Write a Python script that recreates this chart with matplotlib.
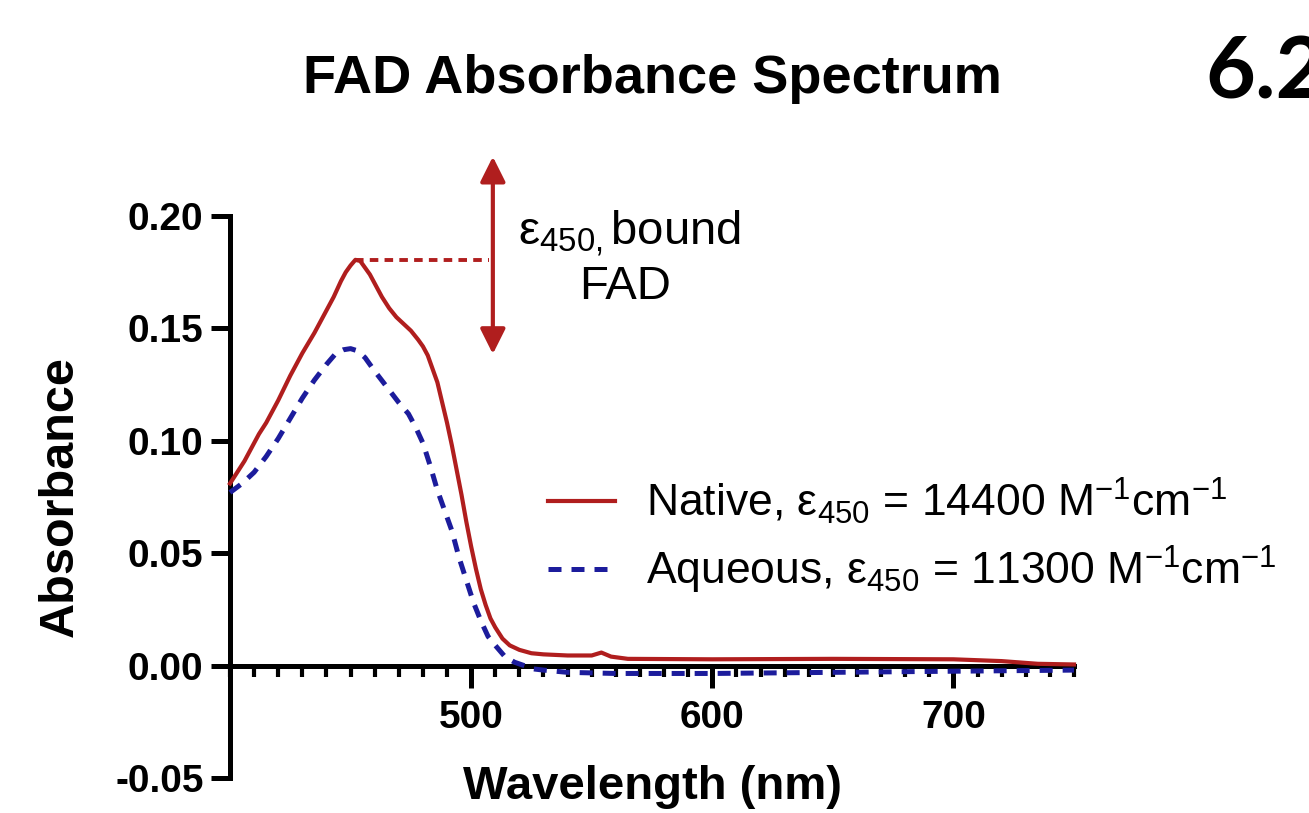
"""FAD absorbance spectrum, native vs aqueous."""

import matplotlib
matplotlib.use("Agg")
import matplotlib.pyplot as plt
from matplotlib.ticker import MultipleLocator

# wavelength [nm] and absorbance
native_nm = [400, 403, 406, 409, 412, 415, 420, 425, 430, 435, 440, 443, 446,
             448, 450, 452, 454, 456, 458, 460, 463, 466, 469, 472, 475, 478,
             480, 482, 484, 486, 488, 490, 492, 494, 496, 498, 500, 502, 504,
             506, 508, 510, 513, 516, 520, 525, 530, 540, 550, 554, 558, 565,
             600, 650, 700, 720, 735, 750]
native_abs = [0.081, 0.086, 0.091, 0.097, 0.103, 0.108, 0.118, 0.129, 0.139,
              0.148, 0.158, 0.164, 0.171, 0.175, 0.178, 0.1805, 0.180, 0.177,
              0.174, 0.170, 0.164, 0.159, 0.155, 0.152, 0.149, 0.145, 0.142,
              0.138, 0.132, 0.126, 0.117, 0.108, 0.098, 0.087, 0.076, 0.064,
              0.053, 0.043, 0.034, 0.027, 0.021, 0.017, 0.012, 0.009, 0.007,
              0.0055, 0.005, 0.0045, 0.0045, 0.0058, 0.004, 0.003, 0.0028,
              0.003, 0.0028, 0.002, 0.0008, 0.0005]

aqueous_nm = [400, 405, 410, 415, 420, 425, 430, 435, 440, 444, 447, 450, 453,
              456, 460, 465, 470, 474, 477, 480, 483, 486, 489, 492, 495, 498,
              501, 504, 507, 510, 514, 518, 522, 526, 530, 540, 560, 600, 650,
              700, 750]
aqueous_abs = [0.077, 0.081, 0.086, 0.093, 0.101, 0.110, 0.119, 0.127, 0.134,
               0.139, 0.1405, 0.141, 0.140, 0.137, 0.131, 0.124, 0.117, 0.112,
               0.106, 0.099, 0.089, 0.078, 0.069, 0.060, 0.048, 0.038, 0.028,
               0.020, 0.013, 0.009, 0.004, 0.0015, 0.0, -0.0015, -0.002,
               -0.003, -0.0035, -0.0035, -0.003, -0.0025, -0.002]

native_label = r"Native, ε$_{450}$ = 14400 M$^{-1}$cm$^{-1}$"
aqueous_label = r"Aqueous, ε$_{450}$ = 11300 M$^{-1}$cm$^{-1}$"

x_major = [500, 600, 700]
y_ticks = [-0.05, 0.00, 0.05, 0.10, 0.15, 0.20]
y_ticklabels = ["-0.05", "0.00", "0.05", "0.10", "0.15", "0.20"]

# annotation: double arrow for bound-FAD epsilon
arrow_x = 509
arrow_top = 0.2264
arrow_bottom = 0.1386

RED = "#b01e1e"
BLUE = "#1c1c9c"

plt.rcParams["font.family"] = ["Liberation Sans", "DejaVu Sans"]
plt.rcParams["mathtext.fontset"] = "custom"
plt.rcParams["mathtext.rm"] = "Liberation Sans"
plt.rcParams["mathtext.it"] = "Liberation Sans:italic"
plt.rcParams["mathtext.bf"] = "Liberation Sans:bold"

fig = plt.figure(figsize=(13.09, 8.13), dpi=100)
W, H = 1309, 813
left_px, right_px, top_px, bottom_px = 230, 1074, 216, 778
ax = fig.add_axes([left_px / W, 1 - bottom_px / H,
                   (right_px - left_px) / W, (bottom_px - top_px) / H])

ax.plot(native_nm, native_abs, color=RED, lw=3.0, label=native_label,
        clip_on=False, zorder=4, solid_joinstyle="round")
ax.plot(aqueous_nm, aqueous_abs, color=BLUE, lw=3.6, ls=(0, (2.6, 2.0)),
        label=aqueous_label, clip_on=False, zorder=4)

ax.set_xlim(400, 750)
ax.set_ylim(-0.05, 0.20)

for side in ["top", "right"]:
    ax.spines[side].set_visible(False)
ax.spines["bottom"].set_position(("data", 0))
ax.spines["left"].set_linewidth(3.6)
ax.spines["bottom"].set_linewidth(3.6)
ax.spines["left"].set_capstyle("projecting")

ax.set_xticks(x_major)
ax.xaxis.set_minor_locator(MultipleLocator(10))
ax.set_yticks(y_ticks)
ax.set_yticklabels(y_ticklabels)

ax.tick_params(axis="y", which="major", direction="out", length=14, width=3.6,
               pad=5, labelsize=28)
ax.tick_params(axis="x", which="major", direction="out", length=16, width=3.6,
               pad=9, labelsize=28)
ax.tick_params(axis="x", which="minor", direction="out", length=8, width=3.0)
for lab in ax.get_xticklabels() + ax.get_yticklabels():
    lab.set_fontweight("bold")

# axis labels placed by hand (bottom spine sits at y = 0)
ax.text(-0.2014, 0.5, "Absorbance", transform=ax.transAxes, rotation=90,
        ha="center", va="center", fontsize=35, fontweight="bold")
ax.text(0.501, -0.016, "Wavelength (nm)", transform=ax.transAxes,
        ha="center", va="center", fontsize=34, fontweight="bold")

fig.text(652 / W, 1 - 79 / H, "FAD Absorbance Spectrum", ha="center",
         va="center", fontsize=39, fontweight="bold")
fig.text(1205 / W, 1 - 74 / H, "6.2", ha="left", va="center", fontsize=62,
         fontweight="bold", family=["Lato", "DejaVu Sans"])

# peak marker and epsilon arrow
peak_i = native_abs.index(max(native_abs))
ax.plot([native_nm[peak_i], arrow_x - 1.5], [native_abs[peak_i]] * 2,
        color=RED, lw=2.8, ls=(0, (2.2, 1.6)), clip_on=False)
ax.annotate("", xy=(arrow_x, arrow_top), xytext=(arrow_x, arrow_bottom),
            arrowprops=dict(arrowstyle="<|-|>", color=RED, lw=3.0,
                            mutation_scale=38, shrinkA=0, shrinkB=0),
            annotation_clip=False)
ax.text(518 / W, 1 - 245 / H, r"ε$_{450,}$bound", transform=fig.transFigure,
        ha="left", va="baseline", fontsize=34)
ax.text(625 / W, 1 - 299 / H, "FAD", transform=fig.transFigure,
        ha="center", va="baseline", fontsize=34)

ax.legend(loc="upper left", bbox_to_anchor=(548 / W, 1 - 476 / H),
          bbox_transform=fig.transFigure, frameon=False, fontsize=32,
          handlelength=1.5, handletextpad=0.7, labelspacing=0.4,
          borderpad=0, borderaxespad=0)

fig.savefig("out.png", dpi=100)
